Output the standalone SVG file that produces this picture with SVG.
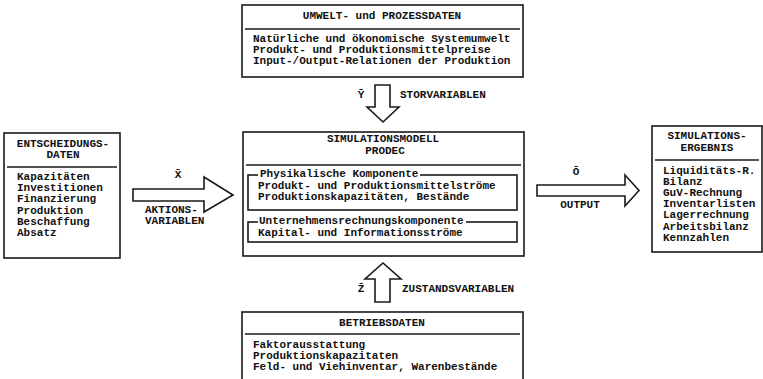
<svg xmlns="http://www.w3.org/2000/svg" width="763" height="379" viewBox="0 0 763 379">
<style>
  .box { fill: #fff; stroke: #1a1a1a; stroke-width: 1.6; }
  .div { stroke: #1a1a1a; stroke-width: 1.6; fill: none; }
  .t { font-family: "Liberation Mono", "DejaVu Sans Mono", monospace; font-size: 11px; font-weight: bold; fill: #111; }
  .c { text-anchor: middle; }
  .arrow { fill: #fff; stroke: #1a1a1a; stroke-width: 1.6; stroke-linejoin: miter; }
  .lab { fill: #fff; }
</style>
<rect width="763" height="379" fill="#fff"/>

<g id="umweltdaten">
  <rect class="box" x="242" y="5" width="281" height="72"/>
  <text class="t c" x="382" y="19">UMWELT- und PROZESSDATEN</text>
  <line class="div" x1="245" y1="29" x2="520" y2="29"/>
  <text class="t" x="253" y="42">Natürliche und ökonomische Systemumwelt</text>
  <text class="t" x="253" y="53">Produkt- und Produktionsmittelpreise</text>
  <text class="t" x="253" y="64">Input-/Output-Relationen der Produktion</text>
</g>

<g id="entscheidungsdaten">
  <rect class="box" x="4" y="133" width="116" height="125"/>
  <text class="t c" x="63" y="147">ENTSCHEIDUNGS-</text>
  <text class="t c" x="63" y="158">DATEN</text>
  <line class="div" x1="7" y1="167" x2="117" y2="167"/>
  <text class="t" x="17" y="180">Kapazitäten</text>
  <text class="t" x="17" y="191">Investitionen</text>
  <text class="t" x="17" y="202">Finanzierung</text>
  <text class="t" x="17" y="214">Produktion</text>
  <text class="t" x="17" y="225">Beschaffung</text>
  <text class="t" x="17" y="236">Absatz</text>
</g>

<g id="simulationsmodell">
  <rect class="box" x="243" y="132" width="281" height="124"/>
  <text class="t c" x="383" y="142">SIMULATIONSMODELL</text>
  <text class="t c" x="385" y="154">PRODEC</text>
  <line class="div" x1="246" y1="165" x2="521" y2="165"/>
  <rect class="box" x="248" y="175" width="269" height="35"/>
  <rect class="lab" x="258" y="169" width="162" height="10"/>
  <text class="t" x="260" y="177">Physikalische Komponente</text>
  <text class="t" x="258" y="189">Produkt- und Produktionsmittelströme</text>
  <text class="t" x="258" y="200">Produktionskapazitäten, Bestände</text>
  <rect class="box" x="248" y="222" width="269" height="20"/>
  <rect class="lab" x="258" y="216" width="208" height="10"/>
  <text class="t" x="259" y="224">Unternehmensrechnungskomponente</text>
  <text class="t" x="258" y="236">Kapital- und Informationsströme</text>
</g>

<g id="simulationsergebnis">
  <rect class="box" x="652" y="126" width="110" height="126"/>
  <text class="t c" x="707" y="139">SIMULATIONS-</text>
  <text class="t c" x="707" y="151">ERGEBNIS</text>
  <line class="div" x1="655" y1="160" x2="759" y2="160"/>
  <text class="t" x="663" y="174">Liquiditäts-R.</text>
  <text class="t" x="663" y="185">Bilanz</text>
  <text class="t" x="663" y="196">GuV-Rechnung</text>
  <text class="t" x="663" y="207">Inventarlisten</text>
  <text class="t" x="663" y="218">Lagerrechnung</text>
  <text class="t" x="663" y="230">Arbeitsbilanz</text>
  <text class="t" x="663" y="241">Kennzahlen</text>
</g>

<g id="betriebsdaten">
  <rect class="box" x="242" y="312" width="281" height="80"/>
  <text class="t c" x="382" y="326">BETRIEBSDATEN</text>
  <line class="div" x1="245" y1="334" x2="520" y2="334"/>
  <text class="t" x="253" y="348">Faktorausstattung</text>
  <text class="t" x="253" y="359">Produktionskapazitaten</text>
  <text class="t" x="253" y="370">Feld- und Viehinventar, Warenbestände</text>
</g>

<g id="connectors">
  <g id="aktionsvariablen">
    <polygon class="arrow" points="133,189 204,189 204,177 233,195 204,212 204,201 133,201"/>
    <text class="t c" x="178" y="178">X̄</text>
    <text class="t" x="145" y="213">AKTIONS-</text>
    <text class="t" x="145" y="224">VARIABLEN</text>
  </g>
  <g id="stoervariablen">
    <polygon class="arrow" points="375,85 390,85 390,107 399,107 383,122 367,107 375,107"/>
    <text class="t c" x="361" y="98">Ȳ</text>
    <text class="t" x="400" y="98">STORVARIABLEN</text>
  </g>
  <g id="output">
    <polygon class="arrow" points="537,185 625,185 625,175 639,190.5 625,206 625,196 537,196"/>
    <text class="t c" x="576" y="175">Ō</text>
    <text class="t c" x="580" y="208">OUTPUT</text>
  </g>
  <g id="zustandsvariablen">
    <polygon class="arrow" points="375,302 390,302 390,279 401,279 383,263 365,279 375,279"/>
    <text class="t c" x="361" y="292">Z̄</text>
    <text class="t" x="402" y="292">ZUSTANDSVARIABLEN</text>
  </g>
</g>
</svg>
